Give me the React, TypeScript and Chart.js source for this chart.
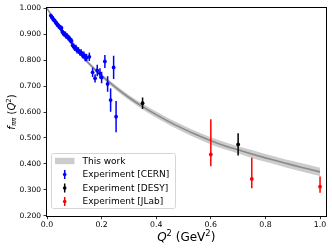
import React, { useEffect, useRef } from "react";
import { Chart, registerables } from "chart.js";

Chart.register(...registerables);

// ---- data ----
const bandQ2 = [0, 0.05, 0.1, 0.15, 0.2, 0.25, 0.3, 0.35, 0.4, 0.45, 0.5, 0.55, 0.6, 0.65, 0.7, 0.75, 0.8, 0.85, 0.9, 0.95, 1.0];
const bandCenter = [1.0, 0.918, 0.85, 0.791, 0.74, 0.696, 0.656, 0.621, 0.59, 0.561, 0.535, 0.511, 0.489, 0.47, 0.454, 0.438, 0.423, 0.409, 0.395, 0.382, 0.369];
const bandHalf = [0, 0.003, 0.005, 0.007, 0.008, 0.009, 0.01, 0.011, 0.012, 0.012, 0.013, 0.013, 0.014, 0.014, 0.014, 0.015, 0.015, 0.015, 0.016, 0.016, 0.016];

const cernQ2 = [0.014, 0.017, 0.02, 0.023, 0.026, 0.029, 0.032, 0.035, 0.038, 0.041, 0.044, 0.047, 0.05, 0.053, 0.056, 0.059, 0.062, 0.066, 0.07, 0.074, 0.078, 0.082, 0.086, 0.09, 0.094, 0.098, 0.102, 0.106, 0.11, 0.115, 0.12, 0.125, 0.13, 0.135, 0.14, 0.145, 0.155, 0.167, 0.176, 0.184, 0.194, 0.2, 0.212, 0.222, 0.233, 0.244, 0.253];
const cernF = [0.972, 0.966, 0.964, 0.957, 0.954, 0.951, 0.944, 0.943, 0.936, 0.935, 0.929, 0.928, 0.923, 0.924, 0.91, 0.906, 0.9, 0.901, 0.893, 0.894, 0.886, 0.885, 0.876, 0.874, 0.857, 0.853, 0.846, 0.847, 0.838, 0.838, 0.83, 0.829, 0.82, 0.82, 0.81, 0.81, 0.813, 0.753, 0.73, 0.76, 0.749, 0.733, 0.795, 0.708, 0.646, 0.772, 0.582];
const cernErr = [0.007, 0.007, 0.007, 0.007, 0.007, 0.008, 0.008, 0.008, 0.008, 0.008, 0.008, 0.009, 0.009, 0.009, 0.009, 0.009, 0.009, 0.01, 0.01, 0.01, 0.01, 0.01, 0.01, 0.011, 0.011, 0.011, 0.011, 0.012, 0.012, 0.012, 0.012, 0.013, 0.013, 0.013, 0.014, 0.014, 0.016, 0.018, 0.016, 0.022, 0.02, 0.022, 0.025, 0.03, 0.045, 0.045, 0.06];

const desyQ2 = [0.35, 0.7];
const desyF = [0.634, 0.475];
const desyErrUp = [0.022, 0.043];
const desyErrDown = [0.022, 0.043];

const jlabQ2 = [0.6, 0.75, 1.0];
const jlabF = [0.436, 0.342, 0.312];
const jlabErrUp = [0.136, 0.082, 0.039];
const jlabErrDown = [0.045, 0.036, 0.023];

const xTicks = [0, 0.2, 0.4, 0.6, 0.8, 1.0];
const yTicks = [0.2, 0.3, 0.4, 0.5, 0.6, 0.7, 0.8, 0.9, 1.0];

const legendLabels = ["This work", "Experiment [CERN]", "Experiment [DESY]", "Experiment [JLab]"];

const BLUE = "#0000ff";
const BLACK = "#000000";
const RED = "#ff0000";
const BAND = "#cccccc";
const LINE = "#8a8a8a";
const FONT = "'DejaVu Sans', sans-serif";

type Seg = { t: string; size: number; italic?: boolean; dy?: number };

function drawRich(ctx: CanvasRenderingContext2D, segs: Seg[], x: number, y: number) {
  let total = 0;
  const widths: number[] = [];
  for (const s of segs) {
    ctx.font = `${s.italic ? "italic " : ""}${s.size}px ${FONT}`;
    const w = ctx.measureText(s.t).width;
    widths.push(w);
    total += w;
  }
  let cx = x - total / 2;
  ctx.textAlign = "left";
  ctx.textBaseline = "alphabetic";
  segs.forEach((s, i) => {
    ctx.font = `${s.italic ? "italic " : ""}${s.size}px ${FONT}`;
    ctx.fillText(s.t, cx, y + (s.dy || 0));
    cx += widths[i];
  });
}

const extrasPlugin = {
  id: "extras",
  afterDatasetsDraw(chart: any) {
    const { ctx, scales } = chart;
    const xs = scales.x;
    const ys = scales.y;
    const groups = [
      { q: cernQ2, f: cernF, up: cernErr, dn: cernErr, color: BLUE },
      { q: desyQ2, f: desyF, up: desyErrUp, dn: desyErrDown, color: BLACK },
      { q: jlabQ2, f: jlabF, up: jlabErrUp, dn: jlabErrDown, color: RED },
    ];
    ctx.save();
    ctx.lineWidth = 1.5;
    for (const g of groups) {
      ctx.strokeStyle = g.color;
      g.q.forEach((q, i) => {
        const px = xs.getPixelForValue(q);
        const y1 = ys.getPixelForValue(g.f[i] + g.up[i]);
        const y2 = ys.getPixelForValue(g.f[i] - g.dn[i]);
        ctx.beginPath();
        ctx.moveTo(px, y1);
        ctx.lineTo(px, y2);
        ctx.stroke();
      });
    }
    ctx.restore();
  },
  afterDraw(chart: any) {
    const { ctx, chartArea } = chart;
    const { left, right, top, bottom } = chartArea;
    ctx.save();
    // frame
    ctx.strokeStyle = "#000";
    ctx.lineWidth = 1;
    ctx.strokeRect(Math.round(left) - 0.5, Math.round(top) - 0.5, Math.round(right) - Math.round(left) + 1, Math.round(bottom) - Math.round(top) + 1);

    // legend
    const lx = 51.5, ly = 153.5, lw = 124, lh = 55;
    ctx.beginPath();
    ctx.roundRect(lx, ly, lw, lh, 2);
    ctx.fillStyle = "rgba(255,255,255,0.8)";
    ctx.fill();
    ctx.strokeStyle = "#d6d6d6";
    ctx.lineWidth = 1;
    ctx.stroke();
    const rows = [161, 174.5, 188, 201.5];
    const colors = [BAND, BLUE, BLACK, RED];
    rows.forEach((ry, i) => {
      if (i === 0) {
        ctx.fillStyle = BAND;
        ctx.fillRect(55, ry - 3.2, 19.5, 6.4);
      } else {
        ctx.strokeStyle = colors[i];
        ctx.lineWidth = 1.5;
        ctx.beginPath();
        ctx.moveTo(64.7, ry - 4.5);
        ctx.lineTo(64.7, ry + 4.5);
        ctx.stroke();
        ctx.fillStyle = colors[i];
        ctx.beginPath();
        ctx.arc(64.7, ry, 1.8, 0, Math.PI * 2);
        ctx.fill();
      }
      ctx.fillStyle = "#000";
      ctx.font = `9px ${FONT}`;
      ctx.textAlign = "left";
      ctx.textBaseline = "middle";
      ctx.fillText(legendLabels[i], 82.5, ry + 0.5);
    });

    // x title
    ctx.fillStyle = "#000";
    drawRich(ctx, [
      { t: "Q", size: 12, italic: true },
      { t: "2", size: 8.4, dy: -5 },
      { t: " (GeV", size: 12 },
      { t: "2", size: 8.4, dy: -5 },
      { t: ")", size: 12 },
    ], (left + right) / 2, 241);

    // y title
    ctx.save();
    ctx.translate(14.5, (top + bottom) / 2);
    ctx.rotate(-Math.PI / 2);
    drawRich(ctx, [
      { t: "f", size: 10, italic: true },
      { t: "ππ", size: 7, italic: true, dy: 1.8 },
      { t: " (", size: 10 },
      { t: "Q", size: 10, italic: true },
      { t: "2", size: 7, dy: -4 },
      { t: ")", size: 10 },
    ], 0, 0);
    ctx.restore();
    ctx.restore();
  },
};

export default function App() {
  const ref = useRef<HTMLCanvasElement | null>(null);
  useEffect(() => {
    if (!ref.current) return;
    const pts = (xs: number[], ys: number[]) => xs.map((x, i) => ({ x, y: ys[i] }));
    const chart = new Chart(ref.current, {
      type: "scatter",
      data: {
        datasets: [
          { label: "CERN", data: pts(cernQ2, cernF), backgroundColor: BLUE, borderColor: BLUE, pointRadius: 1.9, pointBorderWidth: 0 },
          { label: "DESY", data: pts(desyQ2, desyF), backgroundColor: BLACK, borderColor: BLACK, pointRadius: 1.9, pointBorderWidth: 0 },
          { label: "JLab", data: pts(jlabQ2, jlabF), backgroundColor: RED, borderColor: RED, pointRadius: 1.9, pointBorderWidth: 0 },
          { label: "center", data: pts(bandQ2, bandCenter), showLine: true, borderColor: LINE, borderWidth: 1.6, pointRadius: 0, cubicInterpolationMode: "monotone", fill: false } as any,
          { label: "upper", data: pts(bandQ2, bandCenter.map((c, i) => c + bandHalf[i])), showLine: true, borderWidth: 0, borderColor: "rgba(0,0,0,0)", pointRadius: 0, backgroundColor: BAND, cubicInterpolationMode: "monotone", fill: { target: 5 } } as any,
          { label: "lower", data: pts(bandQ2, bandCenter.map((c, i) => c - bandHalf[i])), showLine: true, borderWidth: 0, borderColor: "rgba(0,0,0,0)", pointRadius: 0, cubicInterpolationMode: "monotone", fill: false } as any,
        ],
      },
      options: {
        responsive: false,
        animation: false,
        devicePixelRatio: 1,
        layout: { padding: { top: 8.3, right: 6.5, left: 0, bottom: 0 } },
        plugins: { legend: { display: false }, tooltip: { enabled: false } },
        scales: {
          x: {
            type: "linear",
            min: 0,
            max: 1.02,
            afterBuildTicks: (s: any) => { s.ticks = xTicks.map((v) => ({ value: v })); },
            afterFit: (s: any) => { s.height = 34.3; },
            ticks: { callback: (v: any) => Number(v).toFixed(1), font: { family: FONT, size: 7.8 }, color: "#000", padding: 1, maxRotation: 0, autoSkip: false },
            grid: { drawOnChartArea: false, drawTicks: true, tickLength: 3.5, color: "#000", lineWidth: 0.8 },
            border: { display: false },
          },
          y: {
            type: "linear",
            min: 0.2,
            max: 1.0,
            afterBuildTicks: (s: any) => { s.ticks = yTicks.map((v) => ({ value: v })); },
            afterFit: (s: any) => { s.width = 47; },
            ticks: { callback: (v: any) => Number(v).toFixed(3), font: { family: FONT, size: 7.5 }, color: "#000", padding: 2.5, autoSkip: false },
            grid: { drawOnChartArea: false, drawTicks: true, tickLength: 3.5, color: "#000", lineWidth: 0.8 },
            border: { display: false },
          },
        },
      },
      plugins: [extrasPlugin],
    });
    return () => chart.destroy();
  }, []);
  return (
    <div style={{ position: "absolute", left: 0, top: 0, width: 332, height: 250, background: "#fff" }}>
      <canvas ref={ref} width={332} height={250} style={{ display: "block", width: 332, height: 250 }} />
    </div>
  );
}
